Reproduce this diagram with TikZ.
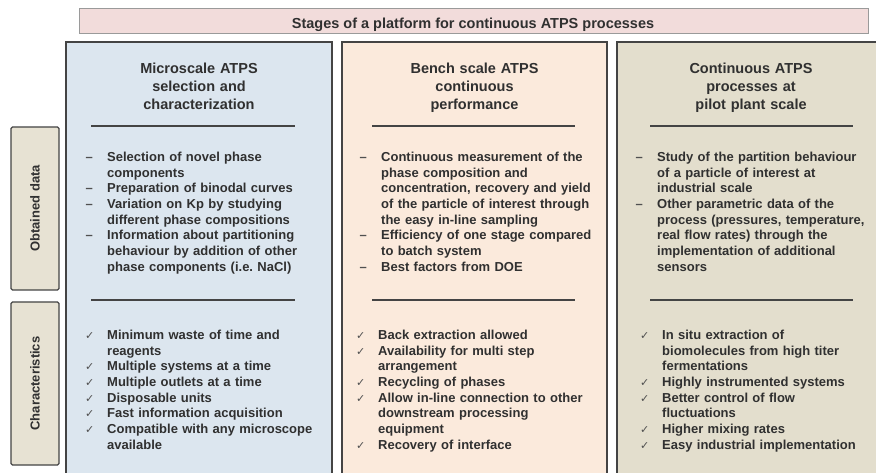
\documentclass[tikz,border=0pt]{standalone}
\usepackage{fontspec}
\setmainfont{Liberation Sans}
\newfontfamily\symf{DejaVu Sans}
\frenchspacing
\definecolor{bannerfill}{HTML}{F2DCDB}
\definecolor{bannerline}{HTML}{9A9A9A}
\definecolor{colA}{HTML}{DCE6EF}
\definecolor{colB}{HTML}{FBEADC}
\definecolor{colC}{HTML}{E3DECD}
\definecolor{sidefill}{HTML}{E7E2D3}
\definecolor{frame}{HTML}{444444}
\definecolor{txt}{HTML}{303030}
\definecolor{mk}{HTML}{505050}
\newcommand\dashm{\leavevmode\llap{\makebox[36pt][c]{\textcolor{mk}{–}}}}
\newcommand\chkm{\leavevmode\llap{\makebox[35pt][c]{\textcolor{mk}{\symf\fontsize{11}{11}\selectfont ✓}}}}
\tikzset{
  colbox/.style={draw=frame, line width=1.8pt},
  sidebox/.style={draw=frame, line width=1.4pt, fill=sidefill, rounded corners=1.5pt, minimum width=48pt, minimum height=163pt, inner sep=0pt},
  sidetext/.style={rotate=90, font=\bfseries\fontsize{13}{15}\selectfont, text=txt, inner sep=0pt},
  sep/.style={draw=frame, line width=1.6pt},
  head/.style={anchor=base, inner sep=0pt, text width=250pt, align=center, text=txt, font=\bfseries\fontsize{14.5}{17.7}\selectfont},
  body/.style={anchor=base west, inner sep=0pt, text width=250pt, align=left, text=txt, font=\bfseries\fontsize{13}{15.65}\selectfont},
}
\begin{document}
\begin{tikzpicture}[x=1pt,y=-1pt]
\useasboundingbox (0,0) rectangle (876,473);
\clip (0,0) rectangle (876,473);
\fill[white] (0,0) rectangle (876,473);
% banner
\node[draw=bannerline, line width=1pt, fill=bannerfill, minimum width=789pt, minimum height=25pt, inner sep=0pt] (banner) at (473.5,21.5) {};
\node[anchor=base, inner sep=0pt, text=txt, font=\bfseries\fontsize{14.5}{17}\selectfont] (bannertxt) at (473,28.3) {Stages of a platform for continuous ATPS processes};
% columns
\draw[colbox, fill=colA] (66,42) rectangle (332,490);
\draw[colbox, fill=colB] (342,42) rectangle (607,490);
\draw[colbox, fill=colC] (617,42) rectangle (884,490);
% side labels
\node[sidebox] (obt) at (35,208.5) {};
\node[sidetext] (obttxt) at (obt.center) {Obtained data};
\node[sidebox] (chr) at (35,383.5) {};
\node[sidetext] (chrtxt) at (chr.center) {Characteristics};
% headers
\node[head] (h1) at (199,74) {Microscale ATPS\\selection and\\characterization};
\node[head] (h2) at (474.5,74) {Bench scale ATPS\\continuous\\performance};
\node[head] (h3) at (751,74) {Continuous ATPS\\processes at\\pilot plant scale};
% separators
\draw[sep] (91,126) -- (295,126);
\draw[sep] (372,126) -- (575,126);
\draw[sep] (650,126) -- (853,126);
\draw[sep] (91,300) -- (295,300);
\draw[sep] (372,300) -- (575,300);
\draw[sep] (650,300) -- (853,300);
% obtained data
\node[body] (d1) at (107,161.7) {\dashm Selection of novel phase\\components\\
\dashm Preparation of binodal curves\\
\dashm Variation on Kp by studying\\different phase compositions\\
\dashm Information about partitioning\\behaviour by addition of other\\phase components (i.e. NaCl)};
\node[body] (d2) at (381,161.7) {\dashm Continuous measurement of the\\phase composition and\\concentration, recovery and yield\\of the particle of interest through\\the easy in-line sampling\\
\dashm Efficiency of one stage compared\\to batch system\\
\dashm Best factors from DOE};
\node[body] (d3) at (657,161.7) {\dashm Study of the partition behaviour\\of a particle of interest at\\industrial scale\\
\dashm Other parametric data of the\\process (pressures, temperature,\\real flow rates) through the\\implementation of additional\\sensors};
% characteristics
\node[body] (c1) at (107,339.5) {\chkm Minimum waste of time and\\reagents\\
\chkm Multiple systems at a time\\
\chkm Multiple outlets at a time\\
\chkm Disposable units\\
\chkm Fast information acquisition\\
\chkm Compatible with any microscope\\available};
\node[body] (c2) at (378,339.5) {\chkm Back extraction allowed\\
\chkm Availability for multi step\\arrangement\\
\chkm Recycling of phases\\
\chkm Allow in-line connection to other\\downstream processing\\equipment\\
\chkm Recovery of interface};
\node[body] (c3) at (662,339.5) {\chkm In situ extraction of\\biomolecules from high titer\\fermentations\\
\chkm Highly instrumented systems\\
\chkm Better control of flow\\fluctuations\\
\chkm Higher mixing rates\\
\chkm Easy industrial implementation};
\end{tikzpicture}
\end{document}
